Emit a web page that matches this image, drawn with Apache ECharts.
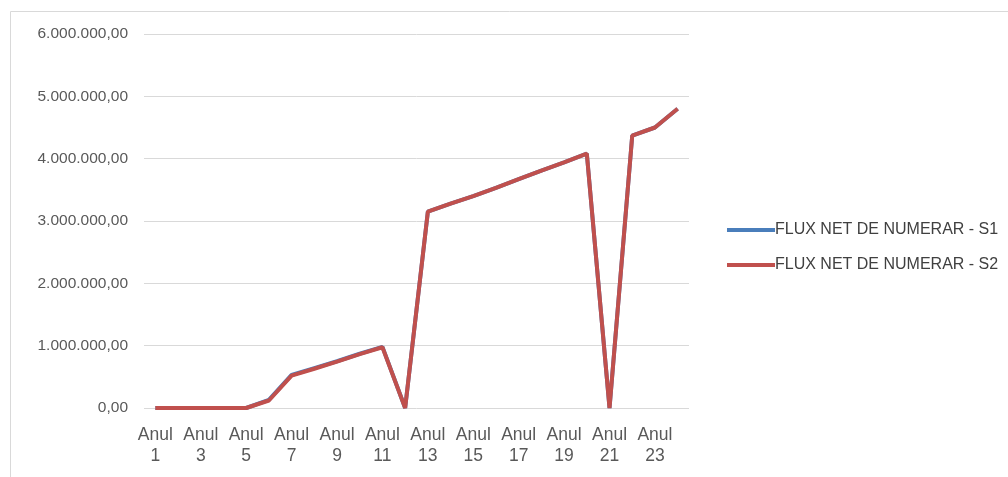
<!DOCTYPE html>
<html><head><meta charset="utf-8">
<script src="https://cdn.jsdelivr.net/npm/echarts@6/dist/echarts.min.js"></script>
<style>html,body{margin:0;padding:0;background:#fff}#c{width:1008px;height:477px}</style>
</head><body><div id="c"></div>
<script>
const categories = ['Anul 1','Anul 2','Anul 3','Anul 4','Anul 5','Anul 6','Anul 7','Anul 8','Anul 9','Anul 10','Anul 11','Anul 12','Anul 13','Anul 14','Anul 15','Anul 16','Anul 17','Anul 18','Anul 19','Anul 20','Anul 21','Anul 22','Anul 23','Anul 24'];
const s1 = [0,0,0,0,0,130000,530000,640000,750000,870000,980000,0,3150000,3280000,3400000,3530000,3670000,3810000,3940000,4080000,0,4370000,4500000,4800000];
const s2 = [0,0,0,0,0,120000,520000,630000,745000,865000,975000,0,3150000,3280000,3400000,3530000,3670000,3810000,3940000,4080000,0,4370000,4500000,4800000];
const seriesNames = ['FLUX NET DE NUMERAR - S1','FLUX NET DE NUMERAR - S2'];

function fmt(v){
  const s = Math.round(v).toString().replace(/\B(?=(\d{3})+(?!\d))/g,'.');
  return s + ',00';
}
const chart = echarts.init(document.getElementById('c'));
chart.setOption({
  animation:false,
  textStyle:{fontFamily:'Liberation Sans'},
  graphic:[{type:'rect',shape:{x:10.5,y:11.5,width:1000,height:470},style:{fill:'none',stroke:'#d9d9d9',lineWidth:1},silent:true}],
  grid:{left:144,right:319,top:34,bottom:69},
  legend:{orient:'vertical',left:722,top:217,itemGap:19,itemWidth:48,itemHeight:4,icon:'rect',
    textStyle:{color:'#404040',fontSize:16,padding:[0,0,0,-5]},data:seriesNames},
  xAxis:{type:'category',data:categories,boundaryGap:true,
    axisLine:{show:false},axisTick:{show:false},
    axisLabel:{interval:1,color:'#595959',fontSize:17.5,lineHeight:21,margin:17,
      formatter:v=>v.replace(' ','\n')}},
  yAxis:{type:'value',min:0,max:6000000,interval:1000000,
    axisLabel:{color:'#595959',fontSize:15.5,margin:16,formatter:fmt},
    splitLine:{lineStyle:{color:'#d9d9d9',width:1}}},
  series:[
    {name:seriesNames[0],type:'line',data:s1,symbol:'none',lineStyle:{width:4,color:'#4a7ebb'},itemStyle:{color:'#4a7ebb'}},
    {name:seriesNames[1],type:'line',data:s2,symbol:'none',lineStyle:{width:4,color:'#c0504d'},itemStyle:{color:'#c0504d'}}
  ]
});
</script></body></html>
